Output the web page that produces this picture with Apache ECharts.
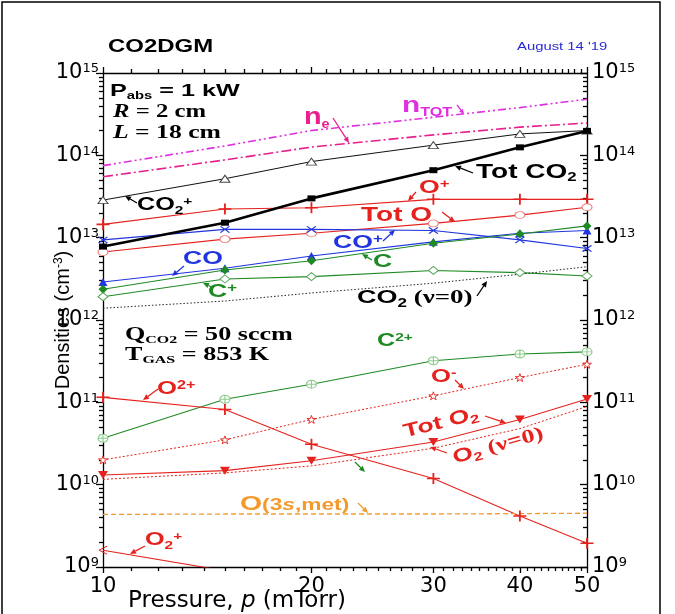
<!DOCTYPE html>
<html>
<head>
<meta charset="utf-8">
<script src="https://cdn.jsdelivr.net/npm/echarts@6/dist/echarts.min.js"></script>
<style>
html, body { margin: 0; padding: 0; background: #fff; }
#chart { width: 675px; height: 614px; }
</style>
</head>
<body>
<div id="chart"></div>
<script>
// Gas pressure (mTorr) at which the model was run
const pressure = [10, 15, 20, 30, 40, 50];

// Densities (cm^-3) per species
const nTot     = [7.5e13, 1.3e14, 2.0e14, 2.9e14, 3.8e14, 4.8e14];
const nE       = [5.5e13, 8.8e13, 1.26e14, 1.77e14, 2.2e14, 2.47e14];
const co2Ion   = [2.86e13, 5.2e13, 8.4e13, 1.33e14, 1.82e14, 2.0e14];
const totCO2   = [7.8e12, 1.52e13, 3.0e13, 6.6e13, 1.25e14, 1.98e14];
const oIon     = [1.45e13, 2.23e13, 2.31e13, 2.92e13, 2.92e13, 2.92e13];
const totO     = [6.7e12, 9.6e12, 1.13e13, 1.49e13, 1.88e13, 2.34e13];
const coIon    = [9.4e12, 1.26e13, 1.26e13, 1.22e13, 9.4e12, 7.4e12];
const co       = [2.9e12, 4.25e12, 5.98e12, 8.9e12, 1.13e13, 1.22e13];
const cAtom    = [2.36e12, 4.05e12, 5.25e12, 8.55e12, 1.11e13, 1.39e13];
const cIon     = [1.92e12, 3.15e12, 3.36e12, 4.0e12, 3.76e12, 3.42e12];
const co2V0    = [1.39e12, 1.7e12, 2.13e12, 2.8e12, 3.6e12, 4.44e12];
const c2Ion    = [3.66e10, 1.09e11, 1.66e11, 3.2e11, 3.86e11, 4.1e11];
const oNeg     = [2.0e10, 3.5e10, 6.2e10, 1.2e11, 2.0e11, 2.9e11];
const o2pIon   = [1.15e11, 8.2e10, 3.1e10, 1.19e10, 4.17e9, 1.94e9];
const totO2    = [1.31e10, 1.48e10, 1.95e10, 3.3e10, 6.2e10, 1.1e11];
const o2V0     = [1.16e10, 1.39e10, 1.69e10, 2.77e10, 4.8e10, 8.9e10];
const o3sMet   = [4.35e9, 4.4e9, 4.4e9, 4.4e9, 4.45e9, 4.5e9];
const o2Ion    = [1.6e9, 9.0e8, null, null, null, null];

// Tick labels
const xTickLabels = [10, 20, 30, 40, 50];
const yTickExponents = [9, 10, 11, 12, 13, 14, 15];

const SANS = '"Liberation Sans", Arial, sans-serif';
const WIDE = '"DejaVu Sans", sans-serif';
const SERIF = '"Liberation Serif", "Times New Roman", serif';
const RED = '#e5221d', BLUE = '#2035e0', GREEN = '#1f8a24', ORANGE = '#f39a2d';
const MAG_TOT = '#e02ee0', MAG_E = '#e81f8c';

const lg = Math.log10;
const xMinor = [];
for (let p = 11; p < 50; p++) if (p % 10 !== 0) xMinor.push(lg(p));
const yMinor = [];
for (let e = 9; e < 15; e++) for (let k = 2; k <= 9; k++) yMinor.push(lg(k) + e);

// Line series are drawn on value axes in log10 space
function toPoints(vals) {
  const out = [];
  pressure.forEach((p, i) => { if (vals[i] != null) out.push([lg(p), lg(vals[i])]); });
  return out;
}

const SYM = {
  plus: 'path://M0,4.3H10V5.7H0ZM4.3,0H5.7V10H4.3Z',
  cross: 'path://M1,0L5,4L9,0L10,1L6,5L10,9L9,10L5,6L1,10L0,9L4,5L0,1Z',
  star: 'path://M5,0L6.2,3.6L10,3.6L6.9,5.9L8.1,9.5L5,7.3L1.9,9.5L3.1,5.9L0,3.6L3.8,3.6Z',
  ringCross: 'path://M0,5A5,5,0,1,1,10,5A5,5,0,1,1,0,5ZM5,0L5,10M0,5L10,5',
  chevron: 'path://M10,0L0,5L10,10'
};

function line(name, vals, o) {
  return {
    type: 'line', name, data: toPoints(vals), xAxisIndex: 0, yAxisIndex: 0,
    symbol: o.symbol || 'none', showSymbol: !!o.symbol, symbolSize: o.size || 6,
    symbolRotate: o.rotate || 0,
    lineStyle: { color: o.color, width: o.width || 1.1, type: o.type || 'solid' },
    itemStyle: { color: o.fill || o.color, borderColor: o.border || o.color, borderWidth: o.bw == null ? 0 : o.bw },
    z: o.z || 3, silent: true, clip: true
  };
}

const series = [
  line('nTOT', nTot, { color: MAG_TOT, width: 1.6, type: [8, 3, 2, 3, 2, 3] }),
  line('ne', nE, { color: MAG_E, width: 1.6, type: [10, 3, 2, 3] }),
  line('CO2+', co2Ion, { color: '#111', width: 1, symbol: 'triangle', size: [10, 7], fill: '#fff', border: '#444', bw: 1 }),
  line('Tot CO2', totCO2, { color: '#000', width: 2.6, symbol: 'rect', size: [8, 6], z: 6 }),
  line('O+', oIon, { color: RED, width: 1.1, symbol: SYM.plus, size: [13, 11] }),
  line('Tot O', totO, { color: RED, width: 1.1, symbol: 'circle', size: [10, 7], fill: '#fff', border: '#f07a7a', bw: 1 }),
  line('CO+', coIon, { color: BLUE, width: 1.1, symbol: SYM.cross, size: [10, 7] }),
  line('CO', co, { color: BLUE, width: 1.1, symbol: 'triangle', size: [9, 8] }),
  line('C', cAtom, { color: GREEN, width: 1.1, symbol: 'diamond', size: [9, 9] }),
  line('C+', cIon, { color: GREEN, width: 1.1, symbol: 'diamond', size: [10, 8], fill: '#fff', border: '#5aa85a', bw: 1 }),
  line('CO2 (v=0)', co2V0, { color: '#222', width: 1, type: [1.5, 2] }),
  line('C2+', c2Ion, { color: GREEN, width: 1.1, symbol: SYM.ringCross, size: [10, 8], fill: '#fff', border: '#8ccc8c', bw: 1 }),
  line('O-', oNeg, { color: RED, width: 1, type: [2, 2], symbol: SYM.star, size: [9, 8], fill: '#fff', border: RED, bw: 0.9 }),
  line('O2+ (doubly charged)', o2pIon, { color: RED, width: 1.1, symbol: SYM.plus, size: [13, 11] }),
  line('Tot O2', totO2, { color: RED, width: 1.1, symbol: 'triangle', rotate: 180, size: [10, 8] }),
  line('O2 (v=0)', o2V0, { color: RED, width: 1, type: [2, 2] }),
  line('O(3s,met)', o3sMet, { color: ORANGE, width: 1.3, type: [5, 3] }),
  line('O2+', o2Ion, { color: RED, width: 1.1, symbol: SYM.chevron, size: [8, 8], fill: 'transparent', border: RED, bw: 1 })
];

// Annotation helpers
function tag(x, y, text, color, size, o = {}) {
  const fam = o.family || SANS;
  const w = o.weight || 'bold';
  const sub = o.sub || Math.round(size * 0.62);
  const drop = o.drop == null ? -2 : o.drop;
  return {
    type: 'text', x, y, scaleX: o.sx == null ? 1.35 : o.sx, rotation: o.rot || 0, z: 100,
    style: {
      text, fill: color, fontSize: size, fontWeight: w, fontFamily: fam,
      textAlign: o.align || 'left', textVerticalAlign: 'middle',
      rich: {
        m: { fontSize: size, fontWeight: w, fontFamily: fam, fill: color },
        i: { fontSize: size, fontWeight: w, fontFamily: fam, fontStyle: 'italic', fill: color },
        s: { fontSize: sub, fontWeight: w, fontFamily: fam, fill: color, verticalAlign: 'bottom', padding: [0, 0, drop, 0] },
        si: { fontSize: sub, fontWeight: w, fontFamily: fam, fontStyle: 'italic', fill: color, verticalAlign: 'bottom', padding: [0, 0, drop, 0] },
        p: { fontSize: sub, fontWeight: w, fontFamily: fam, fill: color, verticalAlign: 'top' },
        g: { fontSize: size, fontWeight: 'bold', fontFamily: SERIF, fill: color }
      }
    }
  };
}
function arrow(x1, y1, x2, y2, color, head = 6) {
  const a = Math.atan2(y2 - y1, x2 - x1);
  const hx = x2 - head * Math.cos(a), hy = y2 - head * Math.sin(a);
  const w = head * 0.45;
  return [
    { type: 'line', z: 100, shape: { x1, y1, x2: hx, y2: hy }, style: { stroke: color, lineWidth: 1.3 } },
    { type: 'polygon', z: 100, shape: { points: [[x2, y2], [hx - w * Math.sin(a), hy + w * Math.cos(a)], [hx + w * Math.sin(a), hy - w * Math.cos(a)]] }, style: { fill: color } }
  ];
}

const graphics = [
  { type: 'rect', z: 0, shape: { x: 2, y: 2, width: 658, height: 640 }, style: { fill: 'none', stroke: '#000', lineWidth: 1.5 } },
  tag(108, 47, 'CO2DGM', '#000', 18, { sx: 1.33 }),
  tag(517, 47, "August 14 '19", '#2a2ad4', 11, { sx: 1.35, weight: 'normal' }),
  tag(110, 91, '{m|P}{s|abs}{m| = 1 kW}', '#000', 17, { sx: 1.48, sub: 10 }),
  tag(113, 112, '{i|R}{m| = 2 cm}', '#000', 19, { family: SERIF, sx: 1.3 }),
  tag(113, 133, '{i|L}{m| = 18 cm}', '#000', 19, { family: SERIF, sx: 1.35 }),
  tag(304, 117, '{m|n}{s|e}', MAG_E, 24, { sx: 1.2, sub: 12 }),
  tag(402, 106, '{m|n}{s|TOT}', MAG_TOT, 22, { sx: 1.35, sub: 12 }),
  tag(137, 205, '{m|CO}{s|2}{p|+}', '#000', 18, { sx: 1.4 }),
  tag(476, 172, '{m|Tot CO}{s|2}', '#000', 20, { sx: 1.4 }),
  tag(419, 188, '{m|O}{p|+}', RED, 19, { sx: 1.4 }),
  tag(361, 215, '{m|Tot O}', RED, 20, { sx: 1.4 }),
  tag(333, 243, '{m|CO}{p|+}', BLUE, 19, { sx: 1.4 }),
  tag(183, 259, '{m|CO}', BLUE, 19, { sx: 1.4 }),
  tag(373, 262, '{m|C}', GREEN, 19, { sx: 1.4 }),
  tag(208, 292, '{m|C}{p|+}', GREEN, 19, { sx: 1.4 }),
  tag(357, 298, '{m|CO}{s|2}{g| (ν=0)}', '#000', 19, { sx: 1.42 }),
  tag(125, 335, '{m|Q}{s|CO2}{m| = 50 sccm}', '#000', 18, { family: SERIF, sx: 1.45, sub: 11 }),
  tag(125, 355, '{m|T}{s|GAS}{m| = 853 K}', '#000', 18, { family: SERIF, sx: 1.45, sub: 11 }),
  tag(377, 341, '{m|C}{p|2+}', GREEN, 18, { sx: 1.4 }),
  tag(157, 389, '{m|O}{p|2+}', RED, 19, { sx: 1.35 }),
  tag(431, 377, '{m|O}{p|-}', RED, 19, { sx: 1.35 }),
  tag(441, 423, '{m|Tot O}{s|2}', RED, 19, { sx: 1.4, align: 'center', rot: 0.25 }),
  tag(498, 446, '{m|O}{s|2}{g| (ν=0)}', RED, 19, { sx: 1.38, align: 'center', rot: 0.27 }),
  tag(240, 504, '{m|O}{s|(3}{si|s}{s|,met)}', ORANGE, 20, { sx: 1.42, sub: 16, drop: 0 }),
  tag(145, 540, '{m|O}{s|2}{p|+}', RED, 18, { sx: 1.4 }),
  ...arrow(333, 118, 349, 143, MAG_E),
  ...arrow(457, 105, 464, 114, MAG_TOT, 5),
  ...arrow(137, 203, 125, 196, '#000'),
  ...arrow(473, 173, 455, 166, '#000'),
  ...arrow(416, 192, 408, 201, RED),
  ...arrow(442, 212, 455, 222, RED),
  ...arrow(383, 241, 395, 230, BLUE),
  ...arrow(184, 266, 172, 276, BLUE),
  ...arrow(372, 260, 362, 254, GREEN),
  ...arrow(214, 288, 203, 283, GREEN),
  ...arrow(477, 296, 487, 281, '#000'),
  ...arrow(158, 389, 143, 400, RED),
  ...arrow(455, 380, 464, 389, RED),
  ...arrow(485, 416, 506, 423, RED),
  ...arrow(447, 453, 430, 447, RED),
  ...arrow(358, 503, 368, 513, ORANGE),
  ...arrow(145, 546, 130, 554, RED),
  ...arrow(355, 462, 365, 472, GREEN)
];

const AX = { color: '#000', width: 1.3 };
const xBase = { type: 'value', min: 1, max: lg(50), gridIndex: 0, splitLine: { show: false } };
const yBase = { type: 'value', min: 9, max: 15, gridIndex: 0, splitLine: { show: false } };
const yLabelRich = {
  b: { fontSize: 21, fontFamily: WIDE, color: '#000' },
  e: { fontSize: 13, fontFamily: WIDE, color: '#000', verticalAlign: 'top', padding: [0, 0, 4, 0] }
};
const yFmt = v => '{b|10}{e|' + Math.round(v) + '}';

const option = {
  animation: false,
  backgroundColor: '#fff',
  grid: { left: 103, right: 88, top: 73, bottom: 47, containLabel: false, outerBoundsMode: 'none' },
  xAxis: [
    Object.assign({}, xBase, {
      position: 'bottom',
      name: '{a|Pressure, }{i|p}{a| (mTorr)}', nameLocation: 'middle', nameGap: 23, nameMoveOverlap: false,
      nameTextStyle: {
        padding: [0, 216, 0, 0],
        rich: {
          a: { fontSize: 23, fontFamily: WIDE, color: '#000' },
          i: { fontSize: 23, fontFamily: WIDE, fontStyle: 'italic', color: '#000' }
        }
      },
      axisLine: { show: true, onZero: false, lineStyle: AX },
      axisTick: { show: true, length: 6, inside: false, customValues: xTickLabels.map(lg), lineStyle: AX },
      axisLabel: { show: true, customValues: xTickLabels.map(lg), formatter: v => String(Math.round(Math.pow(10, v))), fontSize: 21, fontFamily: WIDE, color: '#000', margin: 9 }
    }),
    Object.assign({}, xBase, {
      position: 'bottom',
      axisLine: { show: false, onZero: false },
      axisTick: { show: true, length: 4, inside: false, customValues: xMinor, lineStyle: AX },
      axisLabel: { show: false }
    }),
    Object.assign({}, xBase, {
      position: 'top',
      axisLine: { show: true, onZero: false, lineStyle: AX },
      axisTick: { show: true, length: 6, inside: false, customValues: xTickLabels.map(lg), lineStyle: AX },
      axisLabel: { show: false }
    }),
    Object.assign({}, xBase, {
      position: 'top',
      axisLine: { show: false, onZero: false },
      axisTick: { show: true, length: 4, inside: false, customValues: xMinor, lineStyle: AX },
      axisLabel: { show: false }
    })
  ],
  yAxis: [
    Object.assign({}, yBase, {
      position: 'left',
      name: '{a|Densities (cm}{e|-3}{a|)}', nameLocation: 'middle', nameGap: 30, nameMoveOverlap: false,
      nameTextStyle: {
        rich: {
          a: { fontSize: 20, fontFamily: SANS, color: '#000' },
          e: { fontSize: 12, fontFamily: SANS, color: '#000', verticalAlign: 'top' }
        }
      },
      axisLine: { show: true, onZero: false, lineStyle: AX },
      axisTick: { show: true, length: 7, inside: false, customValues: yTickExponents, lineStyle: AX },
      axisLabel: { show: true, customValues: yTickExponents, formatter: yFmt, rich: yLabelRich, margin: 4 }
    }),
    Object.assign({}, yBase, {
      position: 'left',
      axisLine: { show: false, onZero: false },
      axisTick: { show: true, length: 4, inside: false, customValues: yMinor, lineStyle: AX },
      axisLabel: { show: false }
    }),
    Object.assign({}, yBase, {
      position: 'right',
      axisLine: { show: true, onZero: false, lineStyle: AX },
      axisTick: { show: true, length: 7, inside: true, customValues: yTickExponents, lineStyle: AX },
      axisLabel: { show: true, customValues: yTickExponents, formatter: yFmt, rich: yLabelRich, margin: 5 }
    }),
    Object.assign({}, yBase, {
      position: 'right',
      axisLine: { show: false, onZero: false },
      axisTick: { show: true, length: 4, inside: true, customValues: yMinor, lineStyle: AX },
      axisLabel: { show: false }
    })
  ],
  series,
  graphic: graphics
};

const chart = echarts.init(document.getElementById('chart'), null, { renderer: 'canvas' });
chart.setOption(option);
</script>
</body>
</html>
